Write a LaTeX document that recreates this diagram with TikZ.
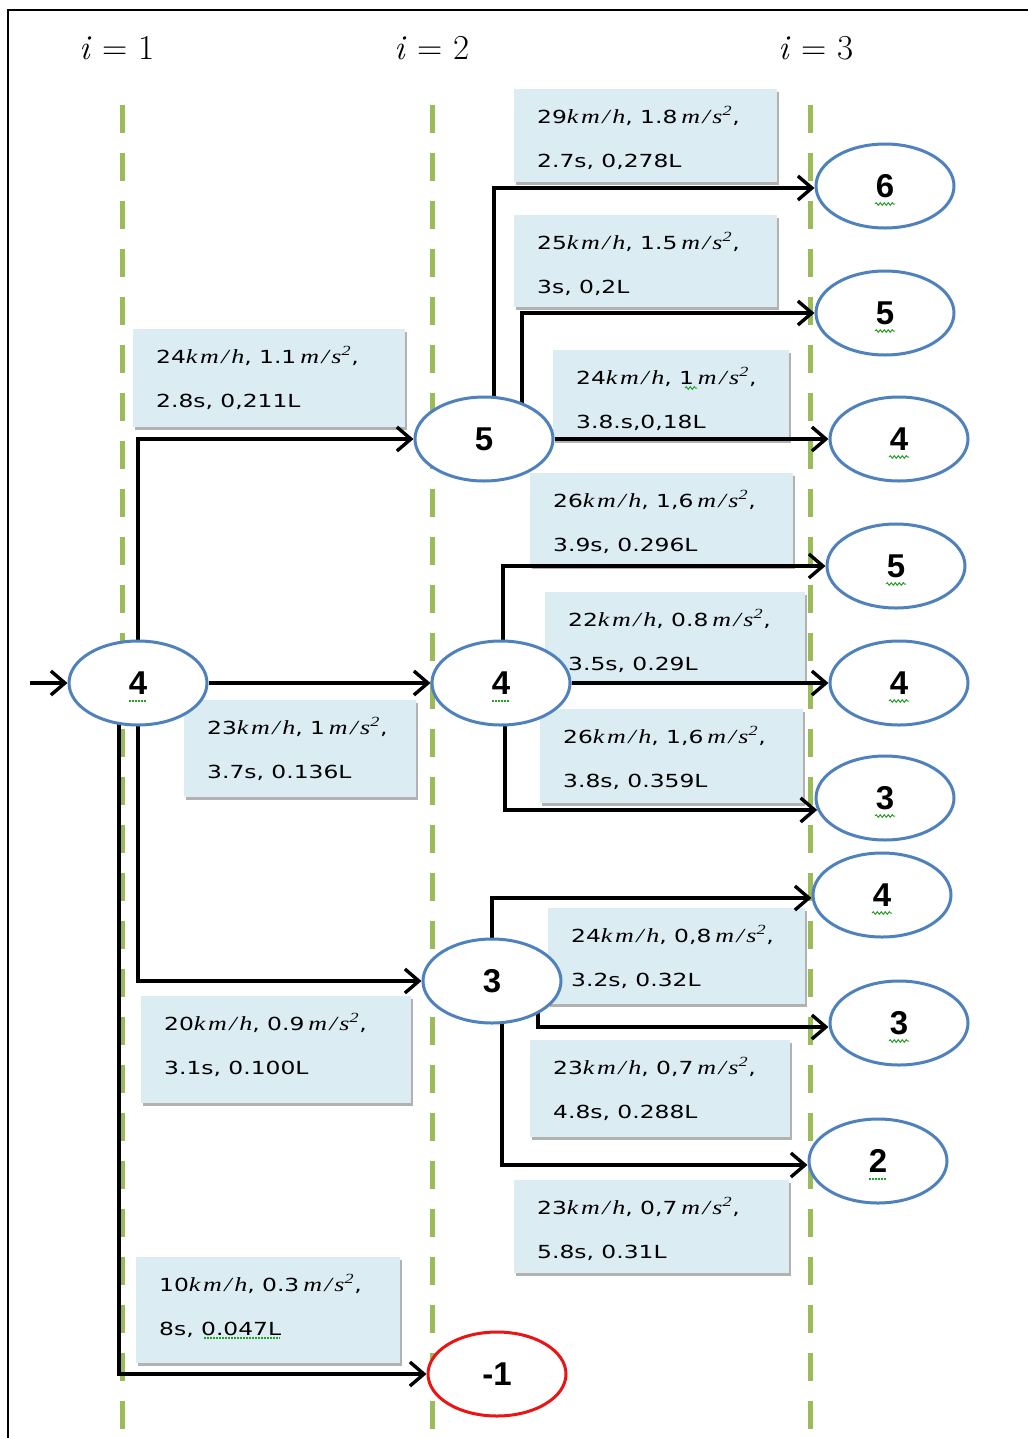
\documentclass[tikz,border=0pt]{standalone}
\usepackage{fontspec}
\usepackage{graphicx}
\newfontfamily\boxfont{DejaVu Sans}
\newfontfamily\numfont{Liberation Sans}
\newfontfamily\unitfont[LetterSpace=10]{Liberation Serif}
\usetikzlibrary{shapes.geometric,arrows.meta,shadows,decorations.pathmorphing,calc}

\definecolor{stateblue}{RGB}{79,129,189}
\definecolor{stagegreen}{RGB}{155,187,89}
\definecolor{boxblue}{RGB}{219,236,243}
\definecolor{endred}{RGB}{235,20,20}
\definecolor{spellgreen}{RGB}{40,160,40}

\pgfdeclarelayer{back}
\pgfdeclarelayer{mid}
\pgfsetlayers{back,mid,main}

% horizontally widened label text
\newcommand\widen[1]{\scalebox{1.3}[1]{#1}}
% italic serif units
\newcommand\unit[1]{{\unitfont\itshape\fontsize{20}{20}\selectfont #1}}
\newcommand\kmh{\unit{km/h}}
\newcommand\mss{\,\unit{m/s\textsuperscript{2}}}

% light blue label box with two lines of text
\newcommand\infobox[7]{%
  \node[infobox, minimum width=#4pt, minimum height=#5pt, anchor=north west] (#1) at (#2,#3) {};
  \node[infotext] (#1a) at ($(#1.north west)+(23,34)$) {\widen{#6}};
  \node[infotext] (#1b) at ($(#1.north west)+(23,78)$) {\widen{#7}};
}

\begin{document}
\begin{tikzpicture}[x=1pt,y=-1pt,
  stageline/.style={draw=stagegreen, line width=5pt, dash pattern=on 28pt off 20pt},
  infobox/.style={fill=boxblue, draw=none, inner sep=0pt,
    drop shadow={shadow xshift=1.5pt, shadow yshift=-3pt, fill=black, opacity=.3}},
  infotext/.style={anchor=base west, inner sep=0pt, text=black,
    font=\boxfont\fontsize{18}{20}\selectfont},
  state/.style={ellipse, draw=stateblue, line width=3pt, fill=white,
    minimum width=138pt, minimum height=84pt, inner sep=0pt,
    font=\numfont\bfseries\fontsize{33}{33}\selectfont},
  endstate/.style={state, draw=endred},
  conn/.style={draw=black, line width=3.4pt, -{Straight Barb[length=14pt,width=24pt]}},
  stagelabel/.style={anchor=base, inner sep=0pt, text=black,
    font=\rmfamily\fontsize{35}{38}\selectfont},
  wavy/.style={draw=spellgreen, line width=1pt, decorate,
    decoration={snake, segment length=4pt, amplitude=1.3pt}},
  dotty/.style={draw=spellgreen, line width=1.2pt, dash pattern=on 1.5pt off 1.5pt}
]
\useasboundingbox (0,0) rectangle (1028,1438);

\begin{pgfonlayer}{back}
  \fill[white] (0,0) rectangle (1028,1438);
  % stage separators
  \coordinate (g1t) at (122,105); \coordinate (g1b) at (122,1445);
  \coordinate (g2t) at (432,105); \coordinate (g2b) at (432,1445);
  \coordinate (g3t) at (810,105); \coordinate (g3b) at (810,1445);
  \draw[stageline] (g1t) -- (g1b);
  \draw[stageline] (g2t) -- (g2b);
  \draw[stageline] (g3t) -- (g3b);

  % transition labels
  \infobox{B1}{133}{329}{272}{98}{24\kmh, 1.1\mss,}{2.8s, 0,211L}
  \infobox{B2}{184}{700}{232}{97}{23\kmh, 1\mss,}{3.7s, 0.136L}
  \infobox{B3}{141}{996}{270}{107}{20\kmh, 0.9\mss,}{3.1s, 0.100L}
  \infobox{B4}{136}{1257}{264}{106}{10\kmh, 0.3\mss,}{8s, 0.047L}
  \infobox{T1}{514}{89}{263}{93}{29\kmh, 1.8\mss,}{2.7s, 0,278L}
  \infobox{T2}{514}{215}{263}{92}{25\kmh, 1.5\mss,}{3s, 0,2L}
  \infobox{T3}{553}{350}{236}{90}{24\kmh, 1\mss,}{3.8.s,0,18L}
  \infobox{T4}{530}{473}{263}{93}{26\kmh, 1,6\mss,}{3.9s, 0.296L}
  \infobox{T5}{545}{592}{260}{90}{22\kmh, 0.8\mss,}{3.5s, 0.29L}
  \infobox{T6}{540}{709}{263}{94}{26\kmh, 1,6\mss,}{3.8s, 0.359L}
  \infobox{T7}{548}{908}{257}{96}{24\kmh, 0,8\mss,}{3.2s, 0.32L}
  \infobox{T8}{530}{1040}{260}{97}{23\kmh, 0,7\mss,}{4.8s, 0.288L}
  \infobox{T9}{514}{1180}{275}{93}{23\kmh, 0,7\mss,}{5.8s, 0.31L}
\end{pgfonlayer}

% outer frame
\coordinate (fa) at (8,1450);
\coordinate (fb) at (8,10);
\coordinate (fc) at (1040,10);
\draw[line width=2pt] (fa) -- (fb) -- (fc);

% stage headers
\node[stagelabel] (h1) at (117,59) {\textit{i} = 1};
\node[stagelabel] (h2) at (432,59) {\textit{i} = 2};
\node[stagelabel] (h3) at (816,59) {\textit{i} = 3};

% states
\node[state] (L4) at (138,683) {4};
\node[state] (N5) at (484,439) {5};
\node[state] (M4) at (501,683) {4};
\node[state] (N3) at (492,981) {3};
\node[endstate] (X) at (497,1374) {-1};
\node[state] (R6) at (885,186) {6};
\node[state] (R5) at (885,313) {5};
\node[state] (R4) at (899,439) {4};
\node[state] (R5b) at (896,566) {5};
\node[state] (R4b) at (899,683) {4};
\node[state] (R3) at (885,798) {3};
\node[state] (R4c) at (882,895) {4};
\node[state] (R3b) at (899,1023) {3};
\node[state] (R2) at (878,1161) {2};

\begin{pgfonlayer}{mid}
  \coordinate (entry) at (30,683);
  \draw[conn] (entry) -- (L4.west);
  % from stage 1
  \draw[conn] (L4.center) |- (N5.west);
  \draw[conn] (L4.east) -- (M4.west);
  \draw[conn] (L4.center) |- (N3.west);
  \draw[conn] ([xshift=-19pt]L4.center) |- (X.west);
  % from state 5
  \draw[conn] ([xshift=10pt]N5.center) |- ([yshift=-2pt]R6.west);
  \draw[conn] ([xshift=38pt]N5.center) |- (R5.west);
  \draw[conn] (N5.east) -- (R4.west);
  % from state 4
  \draw[conn] ([xshift=2pt]M4.center) |- (R5b.west);
  \draw[conn] (M4.east) -- (R4b.west);
  \draw[conn] ([xshift=4pt]M4.center) |- (R3.190);
  % from state 3
  \draw[conn] (N3.center) |- ([yshift=-3pt]R4c.west);
  \draw[conn] ([xshift=46pt]N3.center) |- ([yshift=-4pt]R3b.west);
  \draw[conn] ([xshift=10pt]N3.center) |- ([yshift=-4pt]R2.west);
\end{pgfonlayer}

% spell-check marks under the numbers
\foreach \s in {R6,R5,R4,R5b,R4b,R3,R4c,R3b}{
  \draw[wavy] ($(\s.center)+(-10,18)$) -- ++(20,0);
}
\foreach \s in {L4,M4,R2}{
  \draw[dotty] ($(\s.center)+(-9,18)$) -- ++(18,0);
}
\draw[wavy] ($(T3.north west)+(132,38)$) -- ++(12,0);
\draw[dotty] ($(B4.north west)+(68,81)$) -- ++(76,0);
\end{tikzpicture}
\end{document}
